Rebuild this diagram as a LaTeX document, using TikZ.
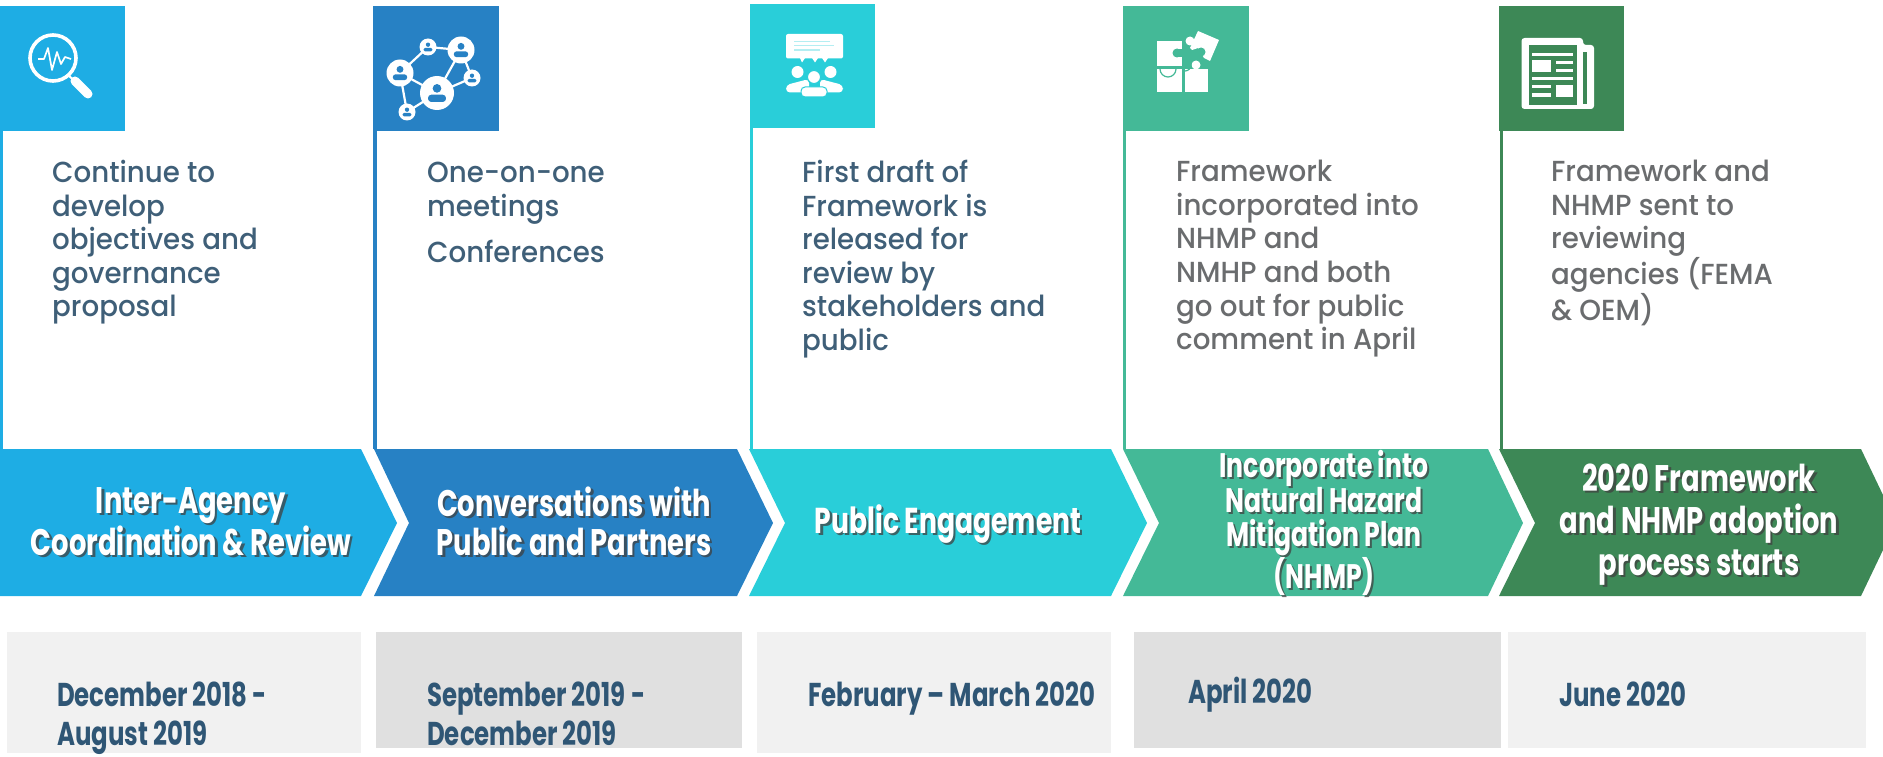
\documentclass[tikz,border=0pt]{standalone}
\usepackage{fontspec}
\setmainfont{Poppins}
\newfontfamily\bodyf[FakeStretch=0.955]{Poppins Medium}
\newfontfamily\headf[FakeStretch=0.74]{Poppins}
\definecolor{cA}{HTML}{1EADE4}
\definecolor{cB}{HTML}{2781C4}
\definecolor{cC}{HTML}{29CED9}
\definecolor{cD}{HTML}{44B997}
\definecolor{cE}{HTML}{3D8856}
\definecolor{ink}{HTML}{3F5F78}
\definecolor{inkgrey}{HTML}{6A6C6E}
\definecolor{dateink}{HTML}{2F5675}
\definecolor{paleA}{HTML}{F1F1F1}
\definecolor{paleB}{HTML}{E0E0E0}
\tikzset{
  bodytext/.style={anchor=north west,inner sep=0pt,align=left,text=ink,font=\bodyf\fontsize{29}{33.6}\selectfont},
  greytext/.style={bodytext,text=inkgrey},
  headtext/.style={inner sep=0pt,align=center,text=white,font=\headf\bfseries\fontsize{#1}{#1}\selectfont},
  headshadow/.style={inner sep=0pt,align=center,text=black!75,opacity=.75,font=\headf\bfseries\fontsize{#1}{#1}\selectfont},
  datetext/.style={anchor=north west,inner sep=0pt,align=left,text=dateink,font=\headf\bfseries\fontsize{33}{39}\selectfont}
}
\newcommand{\bust}[4]{% x y scale colour
  \fill[#4] (#1,#2-0.32*#3) circle (0.3*#3);
  \fill[#4,rounded corners=0.22*#3] (#1-0.62*#3,#2+0.62*#3) -- (#1-0.62*#3,#2+0.12*#3) -- (#1+0.62*#3,#2+0.12*#3) -- (#1+0.62*#3,#2+0.62*#3) -- cycle;
}
\newcommand{\netperson}[3]{% x y r
  \fill[white] (#1,#2) circle (#3);
  \bust{#1}{#2}{0.85*#3}{cB}
}
\begin{document}
\begin{tikzpicture}[x=1pt,y=-1pt]
\useasboundingbox (0,0) rectangle (1883,757);
% rails
\fill[cA] (0,131) rectangle (3,449);
\fill[cB] (373,131) rectangle (377,449);
\fill[cC] (750,128) rectangle (753,449);
\fill[cD] (1123,131) rectangle (1126,449);
\fill[cE] (1500,131) rectangle (1503,449);
% tabs
\fill[cA] (0,6) rectangle (125,131);
\fill[cB] (373,6) rectangle (499,131);
\fill[cC] (750,4) rectangle (875,128);
\fill[cD] (1123,6) rectangle (1249,131);
\fill[cE] (1499,6) rectangle (1624,131);
% chevrons
\fill[cA] (0,449) -- (361,449) -- (397,523) -- (361,596) -- (0,596) -- cycle;
\fill[cB] (374,449) -- (737,449) -- (773,523) -- (737,596) -- (374,596) -- (409,523) -- cycle;
\fill[cC] (749,449) -- (1111,449) -- (1147,523) -- (1111,596) -- (749,596) -- (785,523) -- cycle;
\fill[cD] (1123,449) -- (1488,449) -- (1523,523) -- (1488,596) -- (1123,596) -- (1159,523) -- cycle;
\fill[cE] (1499,449) -- (1861,449) -- (1883,495) -- (1883,550) -- (1861,596) -- (1499,596) -- (1535,523) -- cycle;
% date panels
\fill[paleA] (7,632) rectangle (361,753);
\fill[paleB] (375.5,632) rectangle (742,748);
\fill[paleA] (757,632) rectangle (1111,753);
\fill[paleB] (1134,632) rectangle (1501,748);
\fill[paleA] (1508,632) rectangle (1866,748);
% icon: magnifier
\draw[white,line width=3.6pt] (53,58) circle (23);
\draw[white,line width=9pt,line cap=round] (75,81) -- (88,94);
\draw[white,line width=2pt] (69,76) -- (75,81);
\draw[white,line width=1.7pt,line join=round] (38,59) -- (44,59) -- (48,48) -- (52,70) -- (57,52) -- (61,64) -- (65,57) -- (71,59);
% icon: network
\draw[white,line width=2.2pt] (400,73) -- (428,47) -- (461,50) -- (437,93) -- (400,73) -- (407,112) -- (437,93) -- (472,78) -- (461,50);
\netperson{400}{73}{13.5}
\netperson{461}{50}{13.5}
\netperson{437}{93}{17}
\netperson{428}{47}{8.5}
\netperson{472}{78}{8.5}
\netperson{407}{112}{8.5}
% icon: audience
\fill[white,rounded corners=2pt] (786,34) rectangle (843,58.5);
\fill[white] (800,58) -- (802,62.5) -- (805,58) -- cycle;
\fill[white] (812,58) -- (815,62.5) -- (818,58) -- cycle;
\fill[white] (822,58) -- (825,62.5) -- (828,58) -- cycle;
\draw[cC!35,line width=1.6pt] (794,41.5) -- (830,41.5) (794,45.5) -- (834,45.5) (794,50) -- (820,50);
\fill[white] (797.5,72) circle (6);
\fill[white] (830.5,72) circle (6);
\fill[white,rounded corners=4pt] (786,92.5) -- (786,85) -- (809,79) -- (809,92.5) -- cycle;
\fill[white,rounded corners=4pt] (843,92.5) -- (843,85) -- (820,79) -- (820,92.5) -- cycle;
\fill[white,draw=cC,line width=1pt] (814,77) circle (6.5);
\fill[white,rounded corners=4pt,draw=cC,line width=1pt] (801,97) -- (801,87) -- (827,87) -- (827,97) -- cycle;
% icon: puzzle
\fill[white] (1157,41) rectangle (1182,66.5);
\fill[cD] (1177,53) circle (4.5);
\fill[cD] (1178,49) rectangle (1183,57);
\fill[white] (1157,69) rectangle (1182,92);
\fill[white] (1185,69) rectangle (1208,92);
\fill[white] (1196,65) circle (4.5);
\draw[cD,line width=1.2pt] (1160,69) arc (180:0:8);
\draw[cD,line width=1.2pt] (1185,71) arc (90:-90:6);
\fill[white] (1198,31) -- (1219,40) -- (1210,61) -- (1204,58) -- (1198,48) -- (1192,50) -- (1190,48) -- cycle;
\fill[white] (1190,41) circle (4.5);
\fill[cD] (1201,52) circle (4.5);
% icon: newspaper
\fill[white,rounded corners=3pt] (1521.5,38) -- (1583,38) -- (1583,45) -- (1594,45) -- (1594,109) -- (1521.5,109) -- cycle;
\fill[cE] (1528.5,45) rectangle (1577,105);
\fill[cE] (1583,52) rectangle (1587,104);
\fill[white] (1532,53) rectangle (1573,56.5);
\fill[white] (1532,60.5) rectangle (1551,72);
\fill[white] (1555.5,61) rectangle (1573,64);
\fill[white] (1555.5,69) rectangle (1573,72);
\fill[white] (1532,77) rectangle (1573,80.5);
\fill[white] (1532,85) rectangle (1551,88);
\fill[white] (1532,93.5) rectangle (1551,97);
\fill[white] (1555.5,85) rectangle (1573,97);
% body texts
\node[bodytext] (b1) at (52,160) {Continue to\\develop\\objectives and\\governance\\proposal};
\node[bodytext] (b2a) at (427,162) {One-on-one\\meetings};
\node[bodytext] (b2b) at (427,240) {Conferences};
\node[bodytext] (b3) at (802,160) {First draft of\\Framework is\\released for\\review by\\stakeholders and\\public};
\node[greytext] (b4) at (1176,160) {Framework\\incorporated into\\NHMP and\\NMHP and both\\go out for public\\comment in April};
\node[greytext] (b5) at (1551,160) {Framework and\\NHMP sent to\\reviewing\\agencies (FEMA\\\& OEM)};
% chevron headings
\node[headshadow=37] (s1) at (193.5,524) {Inter-Agency\\[1pt]Coordination \& Review};
\node[headtext=37] (h1) at (191,522) {Inter-Agency\\[1pt]Coordination \& Review};
\node[headshadow=37] (s2) at (576.5,523) {Conversations with\\[2pt]Public and Partners};
\node[headtext=37] (h2) at (574,521) {Conversations with\\[2pt]Public and Partners};
\node[headshadow=36] (s3) at (950.5,526) {Public Engagement};
\node[headtext=36] (h3) at (948,524) {Public Engagement};
\node[headshadow=34] (s4) at (1326,525) {Incorporate into\\[0pt]Natural Hazard\\[0pt]Mitigation Plan\\[0pt](NHMP)};
\node[headtext=34] (h4) at (1324,523) {Incorporate into\\[0pt]Natural Hazard\\[0pt]Mitigation Plan\\[0pt](NHMP)};
\node[headshadow=37] (s5) at (1701.5,527) {2020 Framework\\[5pt]and NHMP adoption\\[5pt]process starts};
\node[headtext=37] (h5) at (1699,525) {2020 Framework\\[5pt]and NHMP adoption\\[5pt]process starts};
% dates
\node[datetext] (d1) at (57,682) {December 2018 -\\August 2019};
\node[datetext] (d2) at (427,682) {September 2019 -\\December 2019};
\node[datetext] (d3) at (808,682) {February – March 2020};
\node[datetext] (d4) at (1188,677) {April 2020};
\node[datetext] (d5) at (1559,682) {June 2020};
\end{tikzpicture}
\end{document}
